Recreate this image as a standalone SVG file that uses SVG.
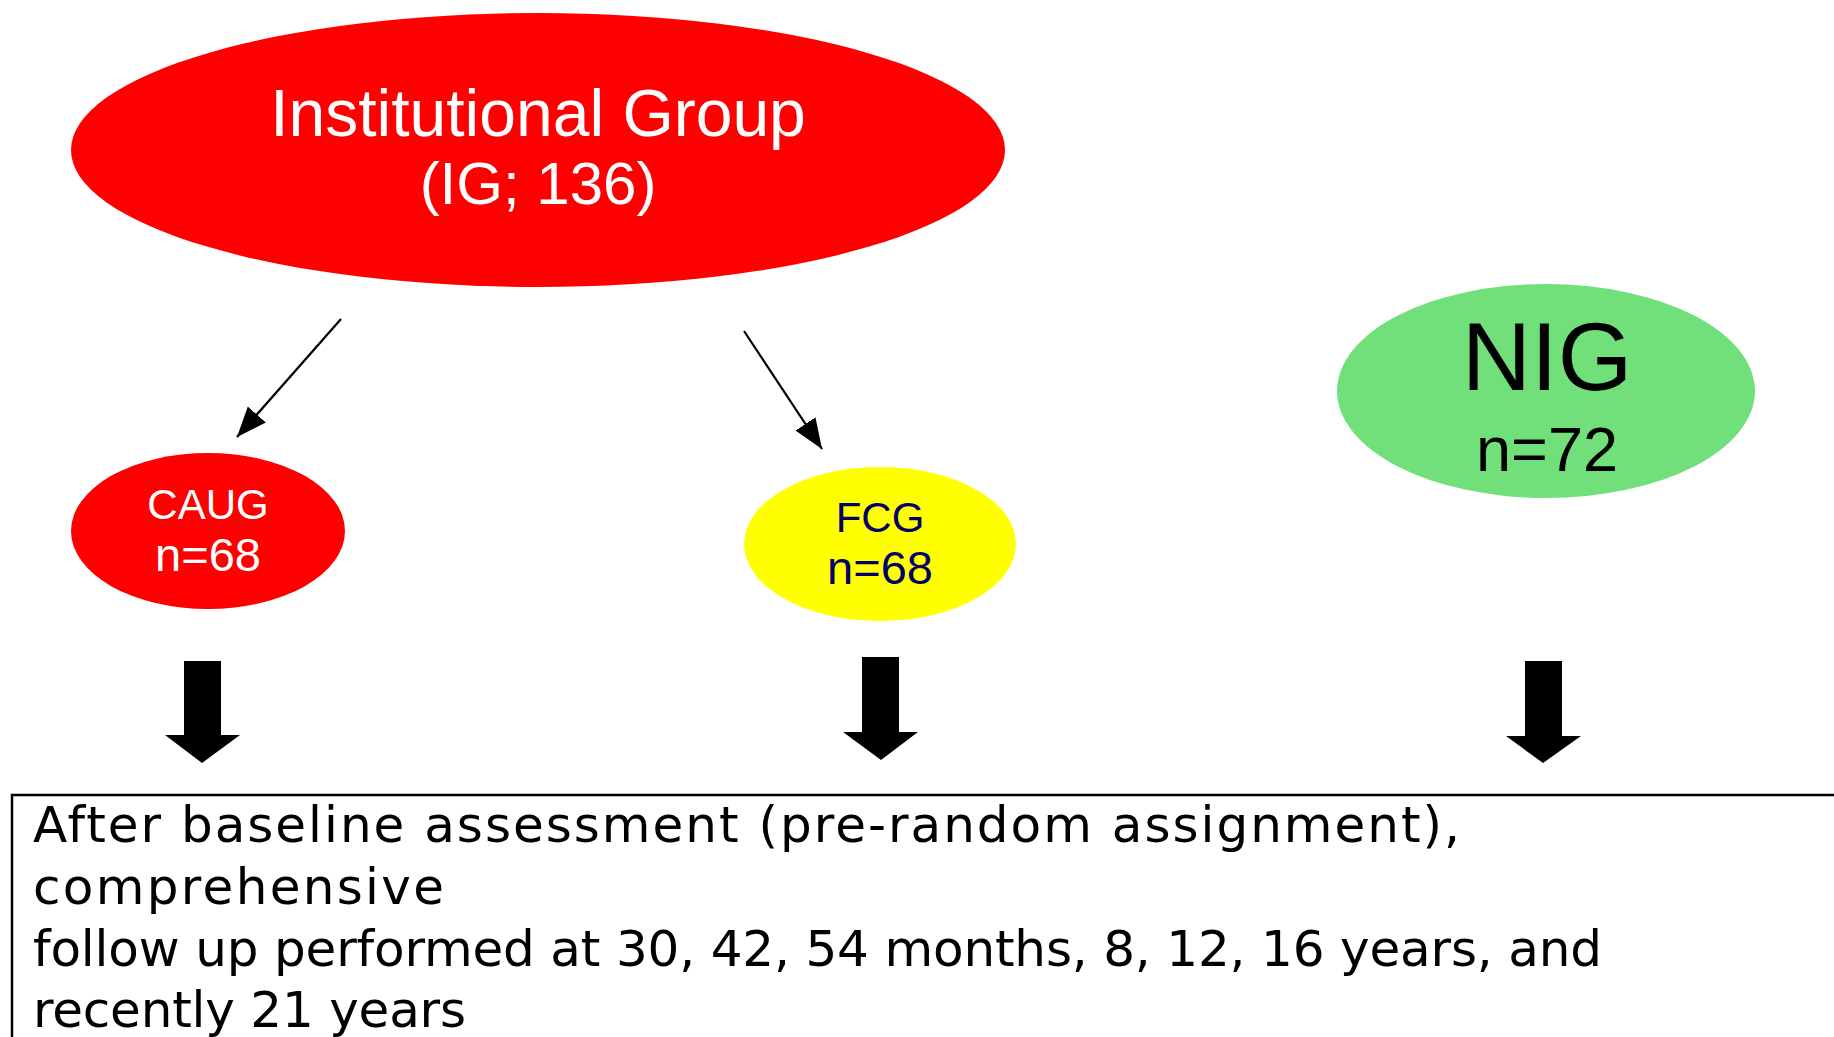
<svg xmlns="http://www.w3.org/2000/svg" width="1834" height="1037" viewBox="0 0 1834 1037">
<style>
  .t { font-family: "Liberation Sans", Arial, sans-serif; }
  .b { font-family: "DejaVu Sans", "Liberation Sans", sans-serif; }
  .white { fill: #ffffff; }
  .thin { stroke: #000; stroke-width: 2.2; fill: none; }
  .block { fill: #000; }
</style>
<defs>
  <marker id="head" markerUnits="userSpaceOnUse" markerWidth="32" markerHeight="26" refX="30" refY="12" orient="auto">
    <path d="M0,0 L30,12 L0,24 z" fill="#000"/>
  </marker>
</defs>
<rect width="1834" height="1037" fill="#ffffff"/>

<g id="ig">
  <ellipse cx="538" cy="150" rx="467" ry="137" fill="#ff0000"/>
  <text class="t white" x="538" y="136" font-size="66" text-anchor="middle">Institutional Group</text>
  <text class="t white" x="538" y="204" font-size="60" text-anchor="middle">(IG; 136)</text>
</g>

<g id="caug">
  <ellipse cx="208" cy="531" rx="137" ry="78" fill="#ff0000"/>
  <text class="t white" x="208" y="519" font-size="42" text-anchor="middle">CAUG</text>
  <text class="t white" x="208" y="571" font-size="47" text-anchor="middle">n=68</text>
</g>

<g id="fcg">
  <ellipse cx="880" cy="544" rx="136" ry="77" fill="#ffff00"/>
  <text class="t" fill="#000066" x="880" y="532" font-size="42" text-anchor="middle">FCG</text>
  <text class="t" fill="#000066" x="880" y="584" font-size="47" text-anchor="middle">n=68</text>
</g>

<g id="nig">
  <ellipse cx="1546" cy="391" rx="209" ry="107" fill="#71e07a"/>
  <text class="t" fill="#000" x="1547" y="390" font-size="96" text-anchor="middle">NIG</text>
  <text class="t" fill="#000" x="1547" y="471" font-size="63" text-anchor="middle">n=72</text>
</g>

<g id="followup">
  <rect x="12" y="795" width="1840" height="300" fill="none" stroke="#000" stroke-width="2.5"/>
  <g class="b" fill="#000" font-size="50">
    <text x="33" y="842" textLength="1427" lengthAdjust="spacing">After baseline assessment (pre-random assignment),</text>
    <text x="33" y="904" textLength="411" lengthAdjust="spacing">comprehensive</text>
    <text x="33" y="966" textLength="1569" lengthAdjust="spacing">follow up performed at 30, 42, 54 months, 8, 12, 16 years, and</text>
    <text x="33" y="1027" textLength="433" lengthAdjust="spacing">recently 21 years</text>
  </g>
</g>

<g id="connectors">
  <line class="thin" x1="341" y1="319" x2="237" y2="437" marker-end="url(#head)"/>
  <line class="thin" x1="744" y1="331" x2="822" y2="449" marker-end="url(#head)"/>
  <polygon class="block" points="184,661 221,661 221,735 240,735 202,763 165,735 184,735"/>
  <polygon class="block" points="862,657 899,657 899,732 918,732 881,760 843,732 862,732"/>
  <polygon class="block" points="1525,661 1562,661 1562,736 1581,736 1543,763 1506,736 1525,736"/>
</g>
</svg>
